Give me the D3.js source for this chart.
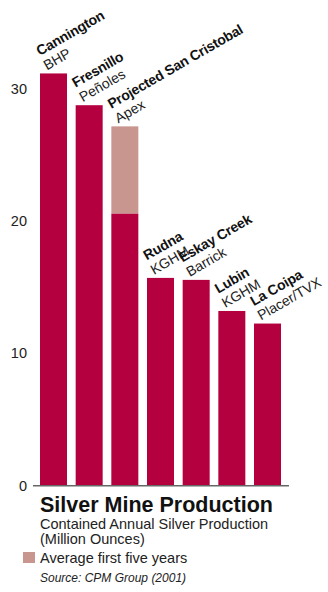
<!DOCTYPE html>
<html>
<head>
<meta charset="utf-8">
<script src="https://cdn.jsdelivr.net/npm/d3@7"></script>
<style>
  html, body { margin: 0; padding: 0; background: #fff; }
  svg { display: block; font-family: "Liberation Sans", Arial, Helvetica, sans-serif; }
</style>
</head>
<body>
<svg id="chart" width="328" height="592"></svg>
<script>
// Data
const mines = ["Cannington", "Fresnillo", "Projected San Cristobal", "Rudna", "Eskay Creek", "Lubin", "La Coipa"];
const companies = ["BHP", "Peñoles", "Apex", "KGHM", "Barrick", "KGHM", "Placer/TVX"];
const production = [31.1, 28.7, 20.5, 15.65, 15.5, 13.15, 12.2];
const firstFiveYears = [null, null, 27.1, null, null, null, null];
const yTicks = [0, 10, 20, 30];

const svg = d3.select("#chart");
const darkColor = "#b5003f";
const lightColor = "#c9958f";

const x = d3.scaleBand().domain(mines).range([40, 281]).paddingInner(0.243).paddingOuter(0);
const y = d3.scaleLinear().domain([0, 30]).range([485, 88]);

const rows = mines.map((m, i) => ({ mine: m, company: companies[i], value: production[i], avg: firstFiveYears[i] }));

// Light (average first five years) part
svg.append("g").selectAll("rect").data(rows.filter(d => d.avg != null)).join("rect")
  .attr("x", d => x(d.mine))
  .attr("width", x.bandwidth())
  .attr("y", d => y(d.avg))
  .attr("height", d => y(d.value) - y(d.avg))
  .attr("fill", lightColor);

// Main bars
svg.append("g").selectAll("rect").data(rows).join("rect")
  .attr("x", d => x(d.mine))
  .attr("width", x.bandwidth())
  .attr("y", d => y(d.value))
  .attr("height", d => y(0) - y(d.value))
  .attr("fill", darkColor);

// Y axis (labels only)
const yAxis = d3.axisLeft(y).tickValues(yTicks).tickSize(0).tickPadding(0).tickFormat(d3.format("d"));
const gy = svg.append("g").attr("transform", "translate(27,0)").call(yAxis);
gy.select(".domain").remove();
gy.selectAll("text").attr("font-size", 14.5).attr("fill", "#222")
  .attr("font-family", "'Liberation Sans', Arial, sans-serif").attr("dy", "0.36em");

// Baseline
svg.append("line")
  .attr("x1", 33).attr("x2", 289)
  .attr("y1", y(0) + 0.75).attr("y2", y(0) + 0.75)
  .attr("stroke", "#666").attr("stroke-width", 1.6);

// Rotated labels (-30 degrees)
const lab = svg.append("g").selectAll("g").data(rows).join("g")
  .attr("transform", d => `translate(${x(d.mine) + 7},${y(d.avg != null ? d.avg : d.value) - 3}) rotate(-30)`);
lab.append("text").text(d => d.mine)
  .attr("x", 1).attr("y", -16)
  .attr("font-size", 14).attr("font-weight", "bold").attr("fill", "#111")
  .attr("letter-spacing", -0.2);
lab.append("text").text(d => d.company)
  .attr("x", 0).attr("y", 0)
  .attr("font-size", 14).attr("fill", "#222");

// Title block
svg.append("text").attr("x", 40).attr("y", 511.5)
  .attr("font-size", 21.5).attr("font-weight", "bold").attr("fill", "#111")
  .text("Silver Mine Production");
svg.append("text").attr("x", 40).attr("y", 529)
  .attr("font-size", 14.5).attr("fill", "#222")
  .text("Contained Annual Silver Production");
svg.append("text").attr("x", 40).attr("y", 544)
  .attr("font-size", 14.5).attr("fill", "#222")
  .text("(Million Ounces)");

// Legend
svg.append("rect").attr("x", 23).attr("y", 552).attr("width", 12).attr("height", 11).attr("fill", lightColor);
svg.append("text").attr("x", 40).attr("y", 562.5)
  .attr("font-size", 14.5).attr("fill", "#222")
  .text("Average first five years");

// Source
svg.append("text").attr("x", 40).attr("y", 582)
  .attr("font-size", 12).attr("font-style", "italic").attr("fill", "#222")
  .text("Source: CPM Group (2001)");
</script>
</body>
</html>
